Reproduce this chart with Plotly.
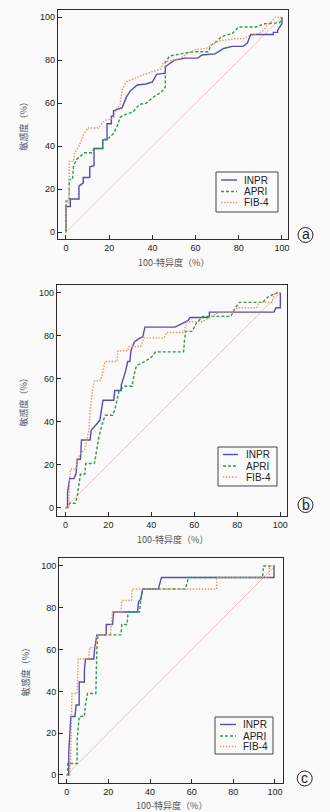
import plotly.graph_objects as go

W, H = 330, 812

# ---------------- data ----------------
# Panel a
a_inpr_x = [0, 0, 2, 2, 6, 6, 8, 8, 11, 11, 13, 13, 17, 17, 19, 19, 21, 21, 22, 22, 26, 28, 30, 33, 37, 40, 42, 46, 46, 48, 50, 55, 61, 63, 69, 73, 77, 82, 84, 85.5, 96, 96, 98, 98, 99.5, 100, 100]
a_inpr_y = [0, 12, 12, 15.5, 15.5, 21.5, 23, 25.5, 25.5, 30.5, 31, 39, 39, 43, 43, 50.5, 50.5, 54, 54, 56.5, 58, 63, 66, 68.5, 69, 70, 73.5, 74, 77, 78.5, 80, 81, 81, 82.5, 83, 85.5, 86.5, 86.5, 88, 92, 92, 93, 93, 94, 96, 97, 100]
a_apri_x = [0, 0, 1.5, 1.5, 3, 3.5, 5, 8.5, 12, 13, 17, 17, 20, 22, 24, 25, 28, 31, 34, 37, 40, 42, 44, 46, 46, 48, 53, 59, 66, 67, 70, 72, 77, 80, 88, 92, 99, 100]
a_apri_y = [0, 14.5, 14.5, 24.5, 24.5, 31, 34, 37, 37, 39, 39, 43, 44, 46, 50, 53.5, 55, 56, 59.5, 60, 62.5, 64, 65, 67.5, 79, 82, 83, 84, 84, 87, 89, 91, 92.5, 95.5, 95.5, 97, 97.5, 100]
a_fib4_x = [0, 0, 1.5, 1.5, 3.5, 4, 6, 8, 10, 15, 16, 18, 22, 23, 25, 26, 28, 35, 41, 44, 45, 49, 53, 56, 60, 65, 67, 71, 78, 82, 85, 88, 91, 93, 95, 97, 100]
a_fib4_y = [0, 13, 14, 33, 33, 37, 40, 45, 48.5, 48.5, 50, 52, 53, 57, 59, 66.5, 70, 73, 75, 76, 79, 80, 81, 83, 85, 85.5, 87, 89, 90, 90, 91.5, 92, 93.5, 96, 98, 100, 100]

# Panel b
b_inpr_x = [0, 1, 1, 2, 4, 5, 5.5, 7, 7.5, 11.5, 12, 14, 16, 17.5, 22.5, 23, 26, 26, 28, 29, 30, 30.5, 32, 34, 36, 37, 51, 55, 57, 58, 67, 67, 97, 98, 100, 100]
b_inpr_y = [0, 0, 7, 13.5, 13.5, 16, 22.5, 22.5, 31.5, 31.5, 36, 38.5, 40.5, 50, 50, 54.5, 54.5, 57, 63.5, 68, 68, 73, 77, 78.5, 79.5, 84, 84, 86, 87, 88.5, 88.5, 91, 91, 93, 93, 100]
b_apri_x = [0, 1, 2, 4.5, 5.5, 6, 7, 9, 9.5, 13.5, 14, 15.5, 17, 18.5, 22, 23, 24, 25, 27.5, 31, 32, 33, 37, 40, 42, 55, 55.5, 56, 59, 61, 64, 77, 79, 81, 92, 93, 95, 98.5, 100]
b_apri_y = [0, 0, 2, 2, 5, 9, 15.5, 15.5, 20.5, 20.5, 24, 32.5, 38.5, 43, 43, 45.5, 50, 54.5, 56.5, 56.5, 62, 66, 68, 70, 72.5, 72.5, 79, 82, 82, 86, 89, 89, 93, 95.5, 95.5, 97, 98.5, 100, 100]
b_fib4_x = [0, 1.5, 2, 2.5, 5, 5.5, 7, 9, 10, 11, 11.5, 12.5, 13.5, 16, 17, 18.5, 24, 24.5, 29, 29.5, 35, 36.5, 46, 47, 55, 56.5, 64, 67, 72, 78, 80, 89, 90, 96, 97.5, 100]
b_fib4_y = [0, 0, 13.5, 18, 18, 22.5, 25, 27, 31.5, 36, 45, 54, 59, 59, 61, 68, 68, 73, 73, 75, 75, 79, 79, 81.5, 81.5, 86.5, 86.5, 88.5, 91, 91, 93, 93, 95.5, 95.5, 100, 100]

# Panel c
c_inpr_x = [0, 1, 1, 2, 4, 4.5, 6, 6, 8.5, 8.5, 9, 13, 13.5, 14.5, 19, 19, 22, 22.5, 34, 34.5, 35.5, 36.5, 44, 45.5, 99.5, 99.5]
c_inpr_y = [0, 0, 11, 28, 28, 33.5, 33.5, 44.5, 44.5, 50, 55.5, 55.5, 61, 67, 67, 72, 72, 78, 78, 83, 84, 89, 89, 94.5, 94.5, 100]
c_apri_x = [0, 0.5, 0.5, 5, 5, 6, 8.5, 9, 10, 14, 14.5, 15, 26, 26.5, 29, 29.5, 35, 35.5, 36.5, 57, 58.5, 94, 94.5, 100]
c_apri_y = [0, 0, 5.5, 5.5, 16.5, 28, 28, 33.5, 39, 39, 61, 67, 67, 72, 72, 78, 78, 83, 89, 89, 94.5, 94.5, 100, 100]
c_fib4_x = [0, 1.5, 2, 2.5, 5, 5.5, 10.5, 11, 14, 14.5, 21, 21.5, 22, 26, 26.5, 31, 31.5, 72, 72, 97, 97.5, 100]
c_fib4_y = [0, 0, 11, 39, 39, 55.5, 55.5, 61, 61, 67, 67, 72, 78, 78, 83.5, 83.5, 89, 89, 94.5, 94.5, 100, 100]

diag = [0, 100]
tick_vals = [0, 20, 40, 60, 80, 100]
series_names = ["INPR", "APRI", "FIB-4"]
panel_labels = ["a", "b", "c"]
x_title = "100-特异度（%）"
y_title = "敏感度（%）"

# ---------------- styles ----------------
colors = {"INPR": "#5050b4", "APRI": "#2f9a48", "FIB-4": "#f39466"}
dashes = {"INPR": "solid", "APRI": "3px,2px", "FIB-4": "1.5px,1.5px"}
widths = {"INPR": 1.4, "APRI": 1.4, "FIB-4": 1.4}
BG = "#fafafa"
AX = "#2b2b2b"

# pixel layout per panel: box (left, right, top, bottom), x range, y range
panels = [
    dict(box=(58, 288, 10, 239), xr=[-3.7, 102.8], yr=[-3.1, 103.4],
         data=[(a_inpr_x, a_inpr_y), (a_apri_x, a_apri_y), (a_fib4_x, a_fib4_y)],
         leg=(216, 278, 172, 212), rows=[180, 191.5, 202.5], lx=(221, 237), tx=242,
         circ=(305.5, 235), ytx=23),
    dict(box=(57, 287, 285, 516), xr=[-3.9, 103.1], yr=[-3.9, 103.6],
         data=[(b_inpr_x, b_inpr_y), (b_apri_x, b_apri_y), (b_fib4_x, b_fib4_y)],
         leg=(218, 277, 447, 486), rows=[454.5, 466, 477], lx=(223, 238), tx=244,
         circ=(305.5, 505), ytx=23),
    dict(box=(59.3, 282.7, 558, 782.7), xr=[-3.55, 103.7], yr=[-3.7, 103.8],
         data=[(c_inpr_x, c_inpr_y), (c_apri_x, c_apri_y), (c_fib4_x, c_fib4_y)],
         leg=(215, 273, 717, 754), rows=[724.5, 736, 746.5], lx=(220, 236), tx=240.5,
         circ=(304.7, 778.5), ytx=25),
]


def px(x):
    return x / W


def py(y):
    return 1 - y / H


fig = go.Figure()
shapes = []
annotations = []
layout_axes = {}

for i, p in enumerate(panels):
    n = "" if i == 0 else str(i + 1)
    xa, ya = "x" + n, "y" + n
    l, r, t, b = p["box"]
    layout_axes["xaxis" + n] = dict(
        domain=[px(l), px(r)], range=p["xr"], anchor=ya,
        tickvals=tick_vals, ticks="inside", ticklen=4, tickwidth=1, tickcolor=AX,
        showline=True, linecolor=AX, linewidth=1.3, mirror=True,
        showgrid=False, zeroline=False,
        tickfont=dict(family="Liberation Sans, Arial", size=9, color="#222"),
    )
    layout_axes["yaxis" + n] = dict(
        domain=[py(b), py(t)], range=p["yr"], anchor=xa,
        tickvals=tick_vals, ticks="inside", ticklen=4, tickwidth=1, tickcolor=AX,
        showline=True, linecolor=AX, linewidth=1.3, mirror=True,
        showgrid=False, zeroline=False,
        tickfont=dict(family="Liberation Sans, Arial", size=9, color="#222"),
    )
    # diagonal reference
    fig.add_trace(go.Scatter(x=diag, y=diag, mode="lines", xaxis=xa, yaxis=ya,
                             line=dict(color="#e8b4ac", width=0.8),
                             showlegend=False, hoverinfo="skip"))
    for name, (xs, ys) in zip(series_names, p["data"]):
        fig.add_trace(go.Scatter(x=xs, y=ys, mode="lines", name=name,
                                 xaxis=xa, yaxis=ya, showlegend=False,
                                 line=dict(color=colors[name], dash=dashes[name],
                                           width=widths[name])))
    # legend box (manual)
    ll, lr, lt, lb = p["leg"]
    shapes.append(dict(type="rect", xref="paper", yref="paper",
                       x0=px(ll), x1=px(lr), y0=py(lb), y1=py(lt),
                       line=dict(color="#444", width=1), fillcolor="rgba(0,0,0,0)"))
    for name, ry in zip(series_names, p["rows"]):
        shapes.append(dict(type="line", xref="paper", yref="paper",
                           x0=px(p["lx"][0]), x1=px(p["lx"][1]), y0=py(ry), y1=py(ry),
                           line=dict(color=colors[name], dash=dashes[name], width=1.4)))
        annotations.append(dict(text=name, xref="paper", yref="paper",
                                x=px(p["tx"]), y=py(ry), xanchor="left", yanchor="middle",
                                showarrow=False,
                                font=dict(family="Liberation Sans, Arial", size=10, color="#222")))
    # axis titles
    annotations.append(dict(text=x_title, xref="paper", yref="paper",
                            x=px((l + r) / 2), y=py(b + 23), xanchor="center", yanchor="middle",
                            showarrow=False,
                            font=dict(family="Noto Sans CJK SC", size=9, color="#555")))
    annotations.append(dict(text=y_title, xref="paper", yref="paper",
                            x=px(p["ytx"]), y=py((t + b) / 2), xanchor="center", yanchor="middle",
                            textangle=-90, showarrow=False,
                            font=dict(family="Noto Sans CJK SC", size=9, color="#555")))
    # circled panel label
    cx, cy = p["circ"]
    shapes.append(dict(type="circle", xref="paper", yref="paper",
                       x0=px(cx - 7.5), x1=px(cx + 7.5), y0=py(cy + 7.5), y1=py(cy - 7.5),
                       line=dict(color="#222", width=1)))
    annotations.append(dict(text=panel_labels[i], xref="paper", yref="paper",
                            x=px(cx), y=py(cy - 0.5), xanchor="center", yanchor="middle",
                            showarrow=False,
                            font=dict(family="Liberation Sans, Arial", size=14, color="#222")))

fig.update_layout(
    width=W, height=H, margin=dict(l=0, r=0, t=0, b=0),
    paper_bgcolor=BG, plot_bgcolor=BG,
    showlegend=False, shapes=shapes, annotations=annotations,
    **layout_axes,
)

fig.write_html("out.html")
